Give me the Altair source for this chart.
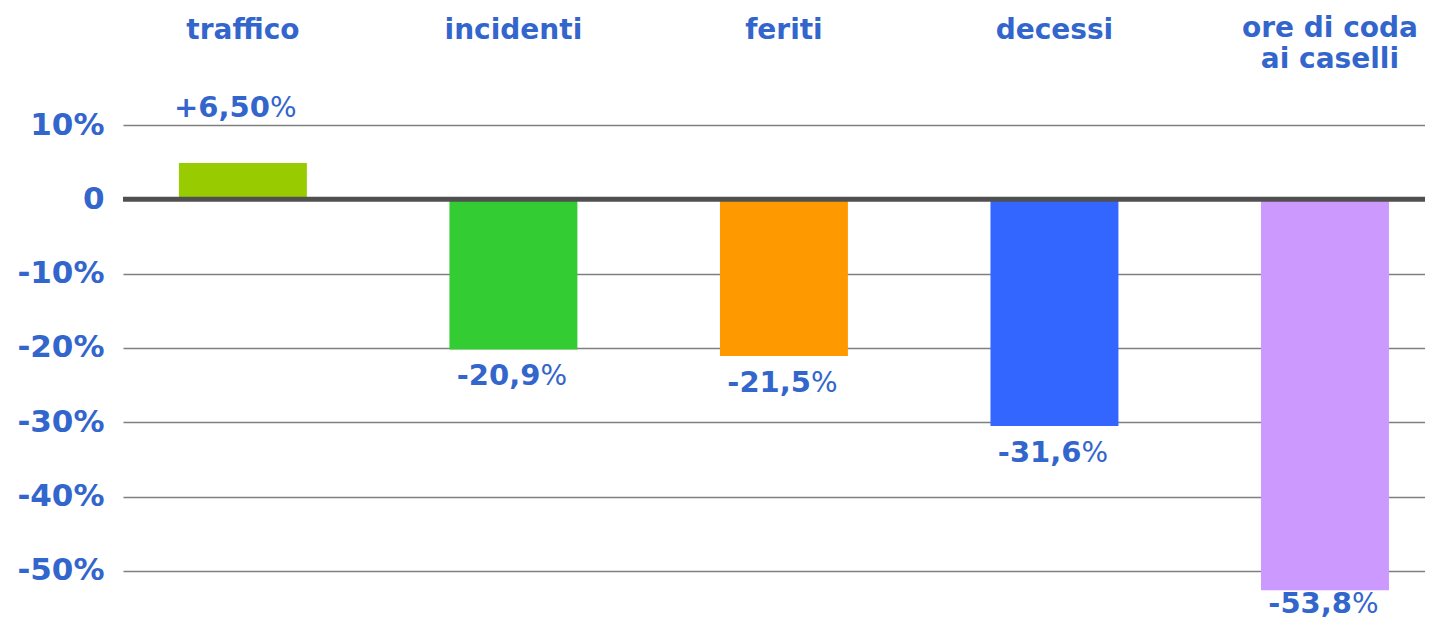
import altair as alt
import pandas as pd

categories = ["traffico", "incidenti", "feriti", "decessi", "ore di coda ai caselli"]
category_titles = ["traffico", "incidenti", "feriti", "decessi", "ore di coda\nai caselli"]
bar_values = [4.9, -20.2, -21.1, -30.5, -52.6]
label_numbers = ["+6,50", "-20,9", "-21,5", "-31,6", "-53,8"]
bar_colors = ["#99CC00", "#33CC33", "#FF9900", "#3366FF", "#CC99FF"]
y_ticks = [10, 0, -10, -20, -30, -40, -50]

df = pd.DataFrame({
    "cat": categories,
    "title": category_titles,
    "value": bar_values,
    "num": label_numbers,
    "color": bar_colors,
})

TEXT = "#3366CC"
FONT = "DejaVu Sans"

x = alt.X("cat:N", sort=categories, axis=None,
          scale=alt.Scale(paddingInner=0.527, paddingOuter=0.17, align=0.608))
yscale = alt.Scale(domain=[-55, 10], nice=False)
y = alt.Y("value:Q", scale=yscale,
          axis=alt.Axis(values=y_ticks, title=None, domain=False, ticks=False,
                        labelExpr="datum.value == 0 ? '0' : datum.value + '%'",
                        labelFont=FONT, labelFontWeight="bold", labelFontSize=31,
                        labelColor=TEXT, labelPadding=19,
                        gridColor="#7f7f7f", gridWidth=1.5))
# label anchor kept inside the visible frame for the lowest bar
y_lab = alt.Y("lab_y:Q", scale=yscale)

base = alt.Chart(df)

bars = base.mark_bar().encode(x=x, y=y, color=alt.Color("color:N", scale=None))

pos = base.transform_filter("datum.value > 0")
neg = base.transform_filter("datum.value < 0").transform_calculate(
    lab_y="max(datum.value, -50.8)")

num_style = dict(font=FONT, fontWeight="bold", fontSize=29, color=TEXT,
                 align="right", dx=27, baseline="alphabetic")
pct_style = dict(font=FONT, fontWeight="normal", fontSize=28, color=TEXT,
                 align="left", dx=27, baseline="alphabetic")

pos_num = pos.mark_text(dy=-46, **num_style).encode(x=x, y=y, text="num:N")
pos_pct = pos.mark_text(dy=-46, **pct_style).encode(x=x, y=y, text=alt.value("%"))
neg_num = neg.mark_text(dy=36, **num_style).encode(x=x, y=y_lab, text="num:N")
neg_pct = neg.mark_text(dy=36, **pct_style).encode(x=x, y=y_lab, text=alt.value("%"))

title_style = dict(font=FONT, fontWeight="bold", fontSize=28, color=TEXT,
                   align="center", baseline="alphabetic", lineBreak="\n")
titles_single = base.transform_filter("indexof(datum.title, '\\n') < 0").mark_text(
    **title_style).encode(x=x, y=alt.value(-86), text="title:N")
titles_multi = base.transform_filter("indexof(datum.title, '\\n') >= 0").mark_text(
    dx=5, lineHeight=31, **title_style).encode(x=x, y=alt.value(-88), text="title:N")

zero = alt.Chart(pd.DataFrame({"z": [0]})).mark_rule(
    color="#505050", strokeWidth=5).encode(y=alt.datum(0))

chart = alt.layer(bars, pos_num, pos_pct, neg_num, neg_pct,
                  titles_single, titles_multi, zero).properties(
    width=1302, height=483,
    padding={"left": 115, "top": 117, "right": 0, "bottom": 12},
    autosize=alt.AutoSizeParams(type="none"),
).configure_view(strokeWidth=0)

chart.save("out.html", embed_options={"renderer": "svg", "actions": False})
